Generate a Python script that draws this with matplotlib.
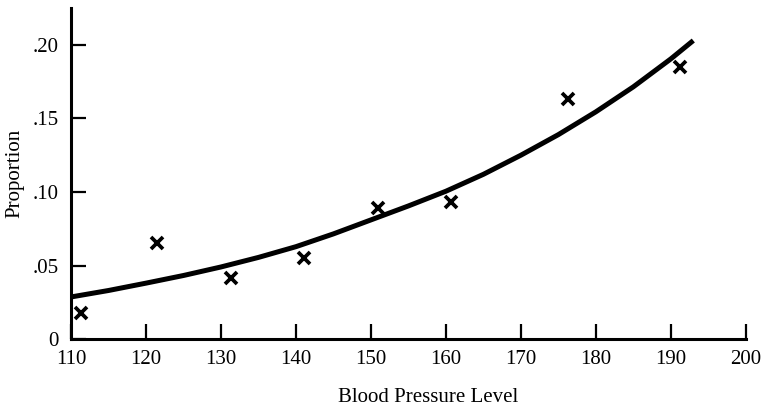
import matplotlib
matplotlib.use("Agg")
import matplotlib.pyplot as plt

bp_level = [111.3, 121.5, 131.3, 141.1, 151.0, 160.7, 176.3, 191.2]
proportion = [0.018, 0.0655, 0.0413, 0.0549, 0.0889, 0.0934, 0.163, 0.185]

# Fitted curve
curve_x = [110, 115, 120, 125, 130, 135, 140, 145, 150, 155, 160, 165, 170, 175, 180, 185, 190, 193]
curve_y = [0.0286, 0.0330, 0.0380, 0.0432, 0.0490, 0.0555, 0.0628, 0.0715, 0.081, 0.0905,
           0.1005, 0.112, 0.125, 0.139, 0.1545, 0.1715, 0.1905, 0.203]

x_ticks = [110, 120, 130, 140, 150, 160, 170, 180, 190, 200]
y_ticks = [0, 0.05, 0.10, 0.15, 0.20]
y_tick_labels = ["0", ".05", ".10", ".15", ".20"]

plt.rcParams["font.family"] = ["Liberation Serif", "DejaVu Serif"]

fig = plt.figure(figsize=(7.61, 4.09), dpi=100)
ax = fig.add_axes([0.0933, 0.1711, 0.8867, 0.8089])

ax.plot(curve_x, curve_y, color="black", linewidth=3.6, solid_capstyle="butt",
        solid_joinstyle="round")
ax.plot(bp_level, proportion, linestyle="none", marker="x", color="black",
        markersize=8.5, markeredgewidth=2.7)

ax.set_xlim(110, 200)
ax.set_ylim(0, 0.225)
ax.set_xticks(x_ticks)
ax.set_yticks(y_ticks)
ax.set_yticklabels(y_tick_labels)

for side in ["top", "right"]:
    ax.spines[side].set_visible(False)
for side in ["left", "bottom"]:
    ax.spines[side].set_linewidth(2.2)

ax.tick_params(axis="both", direction="in", length=11, width=1.6, labelsize=15)
ax.tick_params(axis="x", pad=8)
ax.tick_params(axis="y", pad=9)

fig.text(0.0197, 0.577, "Proportion", rotation=90, ha="center", va="center", fontsize=15)
fig.text(0.562, 0.027, "Blood Pressure Level", ha="center", va="center", fontsize=15)

fig.savefig("out.png", dpi=100)
